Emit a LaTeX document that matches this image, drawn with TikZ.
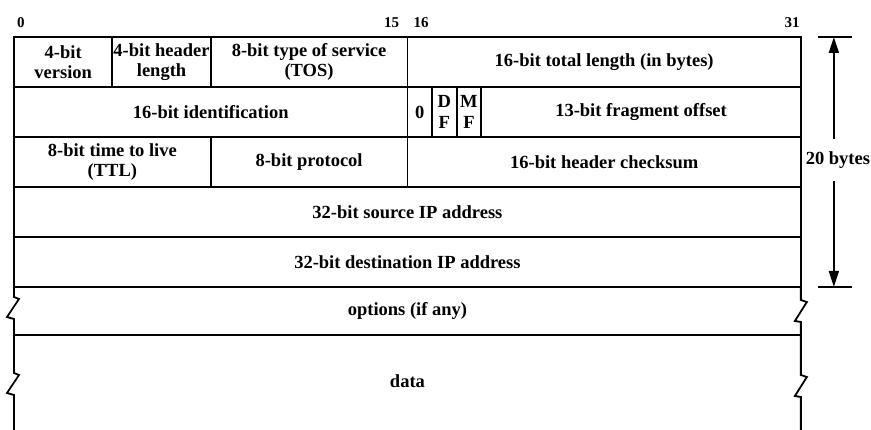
\documentclass[tikz,border=0pt]{standalone}
\usepackage{fontspec}
\setmainfont{Liberation Serif}
\usepackage{tikz}
\usetikzlibrary{arrows.meta,positioning,calc}
\newcommand{\bitw}{24.59pt}
\newcommand{\hdrfont}{\fontsize{18.5}{20.5}\selectfont\bfseries}
\newcommand{\numfont}{\fontsize{15}{16}\selectfont\bfseries}
\tikzset{
  field/.style={draw, line width=1.8pt, anchor=north west, outer sep=0pt,
                inner sep=1pt, minimum height=50pt, align=center, font=\hdrfont},
  bitnum/.style={font=\numfont, inner sep=1pt},
  rim/.style={line width=1.8pt, line join=miter},
  tick/.style={line width=1.2pt},
  dimarrow/.style={-{Triangle[length=16pt, width=10pt]}, line width=1.8pt,
                   shorten <=11pt},
  note/.style={font=\hdrfont, inner sep=1pt},
}

\begin{document}
\begin{tikzpicture}[x=1pt, y=-1pt]
\useasboundingbox (0,0) rectangle (871,430);

% ============================ fixed header ============================
\node[field, minimum width=4*\bitw] (ver) at (14,37) {4-bit\\version};
\node[field, minimum width=4*\bitw, right=0pt of ver] (hlen) {4-bit header\\length};
\node[field, minimum width=8*\bitw, right=0pt of hlen] (tos) {8-bit type of service\\(TOS)};
\node[field, minimum width=16*\bitw, right=0pt of tos] (tlen) {16-bit total length (in bytes)};

\node[field, minimum width=16*\bitw] (ident) at (ver.south west) {16-bit identification};
\node[field, minimum width=\bitw, right=0pt of ident] (zero) {0};
\node[field, minimum width=\bitw, right=0pt of zero] (df) {D\\F};
\node[field, minimum width=\bitw, right=0pt of df] (mf) {M\\F};
\node[field, minimum width=13*\bitw, right=0pt of mf] (frag) {13-bit fragment offset};

\node[field, minimum width=8*\bitw] (ttl) at (ident.south west) {8-bit time to live\\(TTL)};
\node[field, minimum width=8*\bitw, right=0pt of ttl] (proto) {8-bit protocol};
\node[field, minimum width=16*\bitw, right=0pt of proto] (cksum) {16-bit header checksum};

\node[field, minimum width=32*\bitw] (src) at (ttl.south west) {32-bit source IP address};
\node[field, minimum width=32*\bitw] (dst) at (src.south west) {32-bit destination IP address};

% bit positions
\node[bitnum, above=8pt of ver.north west, anchor=south west, xshift=2pt] {0};
\node[bitnum, above=8pt of tos.north east, anchor=south east, xshift=-7pt] {15};
\node[bitnum, above=8pt of tlen.north west, anchor=south west, xshift=5pt] {16};
\node[bitnum, above=8pt of tlen.north east, anchor=south east] {31};

% ============================ options and data ========================
\node[note] (opts) at ($(dst.south)+(0,24)$) {options (if any)};
\node[note] (data) at ($(dst.south)+(0,94)$) {data};
\coordinate (sep) at (0,335);
\coordinate (bot) at (0,430);
\draw[rim] (dst.south west |- sep) -- (dst.south east |- sep);
% broken side edges
\draw[rim] (dst.south west) -- ++(0,10) -- ++(5,2) -- ++(-12,18) -- ++(7,2)
  -- ++(0,54) -- ++(5,2) -- ++(-12,18) -- ++(7,2) -- (dst.south west |- bot);
\draw[rim] (dst.south east) -- ++(0,13) -- ++(6,2) -- ++(-12,19) -- ++(6,1)
  -- ++(0,53) -- ++(6,2) -- ++(-12,19) -- ++(6,1) -- (dst.south east |- bot);

% ============================ header size =============================
\coordinate (ttop) at ($(tlen.north east)+(17,0)$);
\coordinate (tbot) at ($(dst.south east)+(17,0)$);
\draw[tick] (ttop) -- ++(34,0);
\draw[tick] (tbot) -- ++(34,0);
\coordinate (axis) at ($(ttop)+(16,0)$);
\node[note] (bytes) at ($(axis |- cksum.center)+(4,-2)$) {20 bytes};
\draw[dimarrow] (bytes.north -| axis) -- (axis);
\draw[dimarrow] (bytes.south -| axis) -- (axis |- tbot);

\end{tikzpicture}
\end{document}
